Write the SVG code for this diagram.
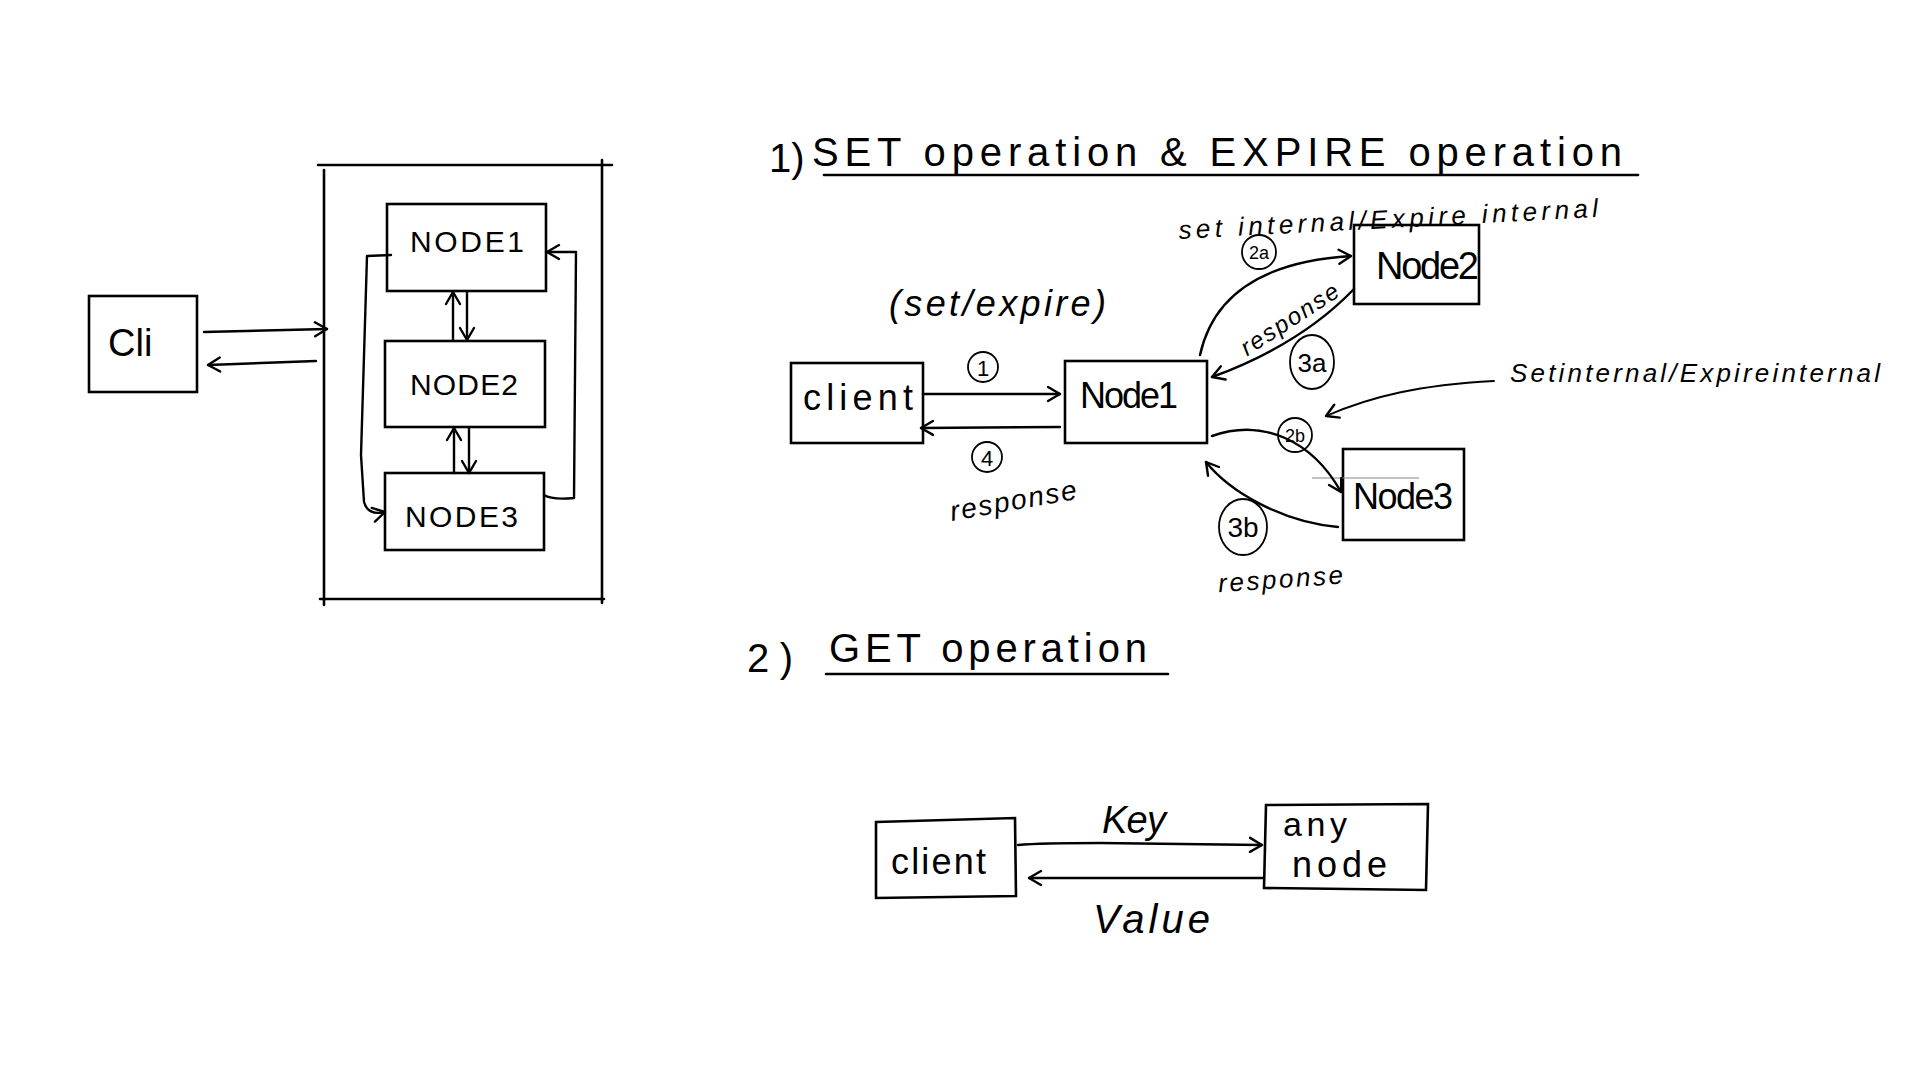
<svg xmlns="http://www.w3.org/2000/svg" width="1920" height="1080" viewBox="0 0 1920 1080">
<style>
.box{fill:none;stroke:#000;stroke-width:2.6;stroke-linecap:round}
.ln{fill:none;stroke:#000;stroke-width:2.4;stroke-linecap:round;stroke-linejoin:round}
.thin{fill:none;stroke:#000;stroke-width:1.8;stroke-linecap:round}
.t{font-family:"Liberation Sans","DejaVu Sans",sans-serif;fill:#000}
.h{font-family:"Liberation Sans","DejaVu Sans",sans-serif;fill:#000;font-style:italic}
</style>
<defs>
<marker id="ah" markerUnits="userSpaceOnUse" markerWidth="20" markerHeight="20" refX="16" refY="10" orient="auto">
<path d="M4,3 L16,10 L4,17" fill="none" stroke="#000" stroke-width="2.4" stroke-linecap="round" stroke-linejoin="round"/>
</marker>
</defs>
<rect width="1920" height="1080" fill="#fff"/>

<!-- LEFT: architecture -->
<g id="container">
<path class="box" d="M324,170 L324,605 M320,599 L604,599 M318,165 L612,165 M602,160 L602,603"/>
</g>
<g id="cli">
<rect class="box" x="89" y="296" width="108" height="96"/>
<text class="t" x="108" y="356" font-size="38">Cli</text>
</g>
<g id="node1-left">
<rect class="box" x="387" y="204" width="159" height="87"/>
<text class="t" x="410" y="252" font-size="30" textLength="114" lengthAdjust="spacing">NODE1</text>
</g>
<g id="node2-left">
<rect class="box" x="385" y="341" width="160" height="86"/>
<text class="t" x="410" y="395" font-size="30" textLength="108" lengthAdjust="spacing">NODE2</text>
</g>
<g id="node3-left">
<rect class="box" x="385" y="473" width="159" height="77"/>
<text class="t" x="405" y="527" font-size="30" textLength="113" lengthAdjust="spacing">NODE3</text>
</g>

<!-- RIGHT: SET / EXPIRE -->
<g id="title1">
<text class="t" x="769" y="172" font-size="40">1)</text>
<text class="t" x="812" y="166" font-size="40" textLength="810" lengthAdjust="spacing">SET operation &amp; EXPIRE operation</text>
<path class="box" d="M824,175 L1638,175"/>
</g>
<g id="client-set">
<rect class="box" x="791" y="363" width="132" height="80"/>
<text class="t" x="803" y="410" font-size="36" textLength="110" lengthAdjust="spacing">client</text>
</g>
<g id="node1-set">
<rect class="box" x="1065" y="361" width="142" height="82"/>
<text class="t" x="1080" y="408" font-size="36" textLength="98" lengthAdjust="spacing">Node1</text>
</g>
<g id="node2-set">
<rect class="box" x="1354" y="225" width="125" height="79"/>
<text class="t" x="1376" y="279" font-size="38" textLength="103" lengthAdjust="spacing">Node2</text>
</g>
<g id="node3-set">
<rect class="box" x="1343" y="449" width="121" height="91"/>
<path d="M1312,478 L1419,478" stroke="#888" stroke-width="1.2" fill="none"/>
<text class="t" x="1353" y="509" font-size="36" textLength="100" lengthAdjust="spacing">Node3</text>
</g>

<!-- labels -->
<g id="labels-set">
<text class="h" x="889" y="316" font-size="36" textLength="217" lengthAdjust="spacing">(set/expire)</text>
<circle class="thin" cx="983" cy="367" r="15"/>
<text class="t" x="983" y="376" font-size="22" text-anchor="middle">1</text>
<circle class="thin" cx="987" cy="457" r="15"/>
<text class="t" x="987" y="466" font-size="22" text-anchor="middle">4</text>
<text class="h" x="949" y="510" font-size="28" textLength="128" lengthAdjust="spacing" transform="rotate(-10 1013 500)">response</text>
<text class="h" x="1178" y="228" font-size="26" textLength="420" lengthAdjust="spacing" transform="rotate(-3 1388 215)">set internal/Expire internal</text>
<circle class="thin" cx="1259" cy="252" r="17"/>
<text class="t" x="1259" y="259" font-size="18" text-anchor="middle">2a</text>
<text class="h" x="1294" y="326" font-size="24" textLength="112" lengthAdjust="spacing" text-anchor="middle" transform="rotate(-33 1294 326)">response</text>
<ellipse class="thin" cx="1312" cy="362" rx="22" ry="27"/>
<text class="t" x="1312" y="372" font-size="26" text-anchor="middle">3a</text>
<text class="h" x="1510" y="382" font-size="26" textLength="370" lengthAdjust="spacing">Setinternal/Expireinternal</text>
<circle class="thin" cx="1295" cy="435" r="17"/>
<text class="t" x="1295" y="442" font-size="18" text-anchor="middle">2b</text>
<ellipse class="thin" cx="1243" cy="527" rx="24" ry="28"/>
<text class="t" x="1243" y="537" font-size="28" text-anchor="middle">3b</text>
<text class="h" x="1218" y="588" font-size="26" textLength="125" lengthAdjust="spacing" transform="rotate(-4 1280 580)">response</text>
</g>

<!-- GET -->
<g id="title2">
<text class="t" x="747" y="672" font-size="40" textLength="46" lengthAdjust="spacing">2)</text>
<text class="t" x="829" y="662" font-size="40" textLength="318" lengthAdjust="spacing">GET operation</text>
<path class="box" d="M826,674 L1168,674"/>
</g>
<g id="client-get">
<path class="box" d="M876,822 L1015,818 L1016,896 L876,898 Z"/>
<text class="t" x="891" y="874" font-size="36" textLength="95" lengthAdjust="spacing">client</text>
</g>
<g id="anynode">
<path class="box" d="M1266,805 L1428,804 L1426,890 L1264,888 Z"/>
<text class="t" x="1283" y="836" font-size="34" textLength="64" lengthAdjust="spacing">any</text>
<text class="t" x="1292" y="877" font-size="36" textLength="95" lengthAdjust="spacing">node</text>
</g>
<g id="labels-get">
<text class="h" x="1102" y="833" font-size="38" textLength="64" lengthAdjust="spacing">Key</text>
<text class="h" x="1093" y="933" font-size="40" textLength="117" lengthAdjust="spacing">Value</text>
</g>

<!-- connectors -->
<g id="connectors">
<path class="ln" d="M204,332 L327,329" marker-end="url(#ah)"/>
<path class="ln" d="M316,361 L208,365" marker-end="url(#ah)"/>
<path class="ln" d="M453,340 L453,292" marker-end="url(#ah)"/>
<path class="ln" d="M467,292 L467,340" marker-end="url(#ah)"/>
<path class="ln" d="M454,473 L454,428" marker-end="url(#ah)"/>
<path class="ln" d="M469,428 L469,473" marker-end="url(#ah)"/>
<path class="ln" d="M391,255 L367,256 L361,455 L364,502 Q368,516 385,512" marker-end="url(#ah)"/>
<path class="ln" d="M544,495 Q552,500 574,498 L576,252 L547,252" marker-end="url(#ah)"/>

<path class="ln" d="M923,394 L1060,394" marker-end="url(#ah)"/>
<path class="ln" d="M1060,427 L921,428" marker-end="url(#ah)"/>
<path class="ln" d="M1200,355 C1212,300 1255,262 1351,256" marker-end="url(#ah)"/>
<path class="ln" d="M1354,289 Q1300,345 1212,377" marker-end="url(#ah)"/>
<path class="ln" d="M1212,436 C1262,418 1312,440 1341,492" marker-end="url(#ah)"/>
<path class="ln" d="M1338,527 C1282,522 1230,492 1206,462" marker-end="url(#ah)"/>
<path class="thin" d="M1494,381 C1420,385 1372,396 1326,416" marker-end="url(#ah)"/>

<path class="ln" d="M1018,845 Q1040,843 1100,843 L1262,845" marker-end="url(#ah)"/>
<path class="ln" d="M1264,878 L1029,878" marker-end="url(#ah)"/>
</g>
</svg>
